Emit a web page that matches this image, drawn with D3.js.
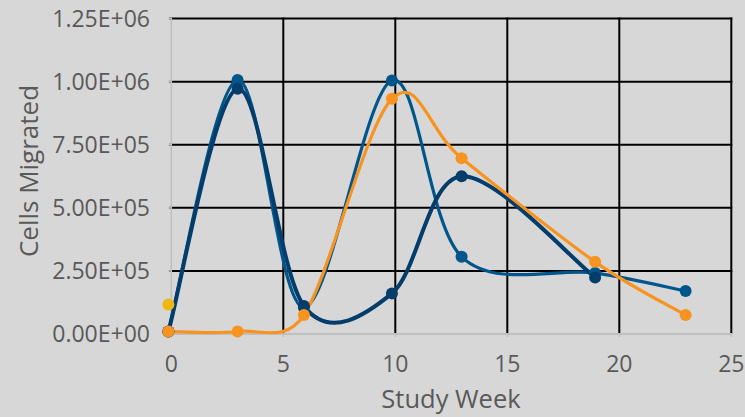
<!DOCTYPE html>
<html>
<head>
<meta charset="utf-8">
<script src="https://cdn.jsdelivr.net/npm/d3@7"></script>
<style>
  html, body { margin: 0; padding: 0; background: #d7d7d7; }
  svg { display: block; }
  text { font-family: "Open Sans", "DejaVu Sans", sans-serif; fill: #595959; }
</style>
</head>
<body>
<svg id="chart" width="745" height="417"></svg>
<script>
// ---- data ----
const weeks = [-0.13, 2.96, 5.92, 9.85, 12.96, 18.92, 22.96];
const seriesMid = [1.0e4, 1.007e6, 1.05e5, 1.005e6, 3.06e5, 2.42e5, 1.70e5];
const seriesDark = [1.0e4, 9.72e5, 1.11e5, 1.61e5, 6.25e5, 2.24e5];
const seriesOrange = [1.0e4, 1.0e4, 7.5e4, 9.32e5, 6.97e5, 2.86e5, 7.5e4];
const yellowWeek = [-0.13];
const yellowValue = [1.17e5];
const xTicks = [0, 5, 10, 15, 20, 25];
const yTicks = [0, 2.5e5, 5.0e5, 7.5e5, 1.0e6, 1.25e6];
const yTickLabels = ["0.00E+00", "2.50E+05", "5.00E+05", "7.50E+05", "1.00E+06", "1.25E+06"];
const xTitle = "Study Week";
const yTitle = "Cells Migrated";

// ---- smoothed curve in the style of spreadsheet smoothing ----
function SmoothCurve(context) { this._context = context; }
SmoothCurve.prototype = {
  areaStart() { this._line = 0; },
  areaEnd() { this._line = NaN; },
  lineStart() { this._pts = []; },
  point(x, y) { this._pts.push([+x, +y]); },
  lineEnd() {
    const p = this._pts, c = this._context, n = p.length;
    if (!n) return;
    c.moveTo(p[0][0], p[0][1]);
    if (n === 1) return;
    const lim = (ox, oy, len) => {
      const m = Math.hypot(ox, oy), maxL = 0.5 * len;
      if (m > maxL && m > 0) { const s = maxL / m; return [ox * s, oy * s]; }
      return [ox, oy];
    };
    for (let i = 0; i < n - 1; i++) {
      const p0 = p[Math.max(0, i - 1)], p1 = p[i], p2 = p[i + 1], p3 = p[Math.min(n - 1, i + 2)];
      const len = Math.hypot(p2[0] - p1[0], p2[1] - p1[1]);
      const a = lim((p2[0] - p0[0]) / 6, (p2[1] - p0[1]) / 6, len);
      const b = lim((p3[0] - p1[0]) / 6, (p3[1] - p1[1]) / 6, len);
      c.bezierCurveTo(p1[0] + a[0], p1[1] + a[1], p2[0] - b[0], p2[1] - b[1], p2[0], p2[1]);
    }
  }
};
const curveSmooth = ctx => new SmoothCurve(ctx);

// ---- layout ----
const svg = d3.select("#chart");
const pL = 171.3, pR = 731.3, pT = 18.6, pB = 334;
const x = d3.scaleLinear().domain([0, 25]).range([pL, pR]);
const y = d3.scaleLinear().domain([0, 1.25e6]).range([pB, pT]);

svg.append("rect").attr("width", 745).attr("height", 417).attr("fill", "#d7d7d7");

svg.append("clipPath").attr("id", "clip")
  .append("rect").attr("x", 140).attr("y", pT - 10).attr("width", 610).attr("height", pB + 0.6 - (pT - 10));

// horizontal gridlines
svg.append("g").selectAll("line").data(yTicks.filter(d => d > 0)).join("line")
  .attr("x1", pL - 2).attr("x2", pR + 1)
  .attr("y1", d => y(d)).attr("y2", d => y(d))
  .attr("stroke", "#000").attr("stroke-width", 2);
// vertical gridlines
svg.append("g").selectAll("line").data(xTicks.filter(d => d > 0)).join("line")
  .attr("x1", d => x(d)).attr("x2", d => x(d))
  .attr("y1", pT - 1).attr("y2", pB)
  .attr("stroke", "#000").attr("stroke-width", 2);

// axis lines
svg.append("line").attr("x1", pL).attr("x2", pL).attr("y1", pT - 1).attr("y2", pB + 1)
  .attr("stroke", "#bfbfbf").attr("stroke-width", 1.5);
svg.append("line").attr("x1", pL).attr("x2", pR + 1).attr("y1", pB).attr("y2", pB)
  .attr("stroke", "#bfbfbf").attr("stroke-width", 2);
svg.append("g").selectAll("line").data(yTicks).join("line")
  .attr("x1", pL - 3).attr("x2", pL)
  .attr("y1", d => y(d)).attr("y2", d => y(d))
  .attr("stroke", "#bfbfbf").attr("stroke-width", 1.5);
svg.append("g").selectAll("line").data(xTicks).join("line")
  .attr("x1", d => x(d)).attr("x2", d => x(d))
  .attr("y1", pB).attr("y2", pB + 3)
  .attr("stroke", "#bfbfbf").attr("stroke-width", 1.5);

// tick labels
svg.append("g").selectAll("text").data(yTicks).join("text")
  .attr("x", 150).attr("y", d => y(d)).attr("dy", "0.36em")
  .attr("text-anchor", "end").attr("font-size", 23)
  .text((d, i) => yTickLabels[i]);
svg.append("g").selectAll("text").data(xTicks).join("text")
  .attr("x", d => x(d)).attr("y", 372)
  .attr("text-anchor", "middle").attr("font-size", 23)
  .text(d => d);

// axis titles
svg.append("text").attr("x", 451).attr("y", 408).attr("text-anchor", "middle")
  .attr("font-size", 25.5).text(xTitle);
svg.append("text").attr("transform", "translate(38,171) rotate(-90)")
  .attr("text-anchor", "middle").attr("font-size", 26).text(yTitle);

// series
const line = d3.line().x(d => x(d[0])).y(d => y(d[1])).curve(curveSmooth);
const series = [
  { vals: seriesMid, color: "#00568b", width: 3.2 },
  { vals: seriesDark, color: "#033d6b", width: 4 },
  { vals: seriesOrange, color: "#f7931e", width: 3.2 }
];
const gLines = svg.append("g").attr("clip-path", "url(#clip)");
series.forEach(s => {
  const pts = s.vals.map((v, i) => [weeks[i], v]);
  gLines.append("path").datum(pts).attr("d", line)
    .attr("fill", "none").attr("stroke", s.color).attr("stroke-width", s.width)
    .attr("stroke-linejoin", "round").attr("stroke-linecap", "round");
});
series.forEach(s => {
  const pts = s.vals.map((v, i) => [weeks[i], v]);
  svg.append("g").selectAll("circle").data(pts).join("circle")
    .attr("cx", d => x(d[0])).attr("cy", d => y(d[1])).attr("r", 6)
    .attr("fill", s.color);
});
svg.append("g").selectAll("circle").data(yellowWeek).join("circle")
  .attr("cx", d => x(d)).attr("cy", (d, i) => y(yellowValue[i])).attr("r", 6)
  .attr("fill", "#eeb713");
</script>
</body>
</html>
